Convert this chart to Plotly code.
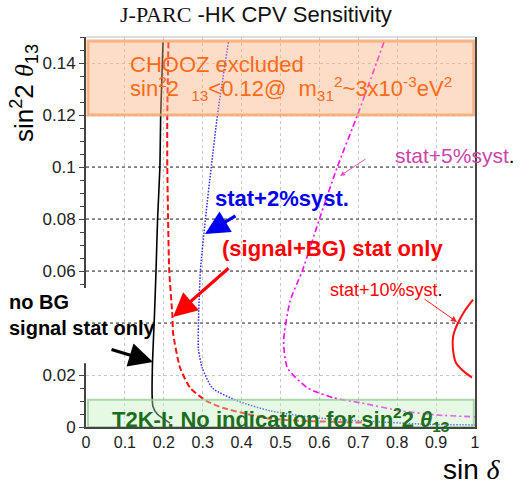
import plotly.graph_objects as go

# ---------------- data ----------------
nobg_x = [0.198, 0.192, 0.190, 0.184, 0.180, 0.176, 0.171, 0.170, 0.172, 0.183, 0.216]
nobg_y = [0.148, 0.120, 0.100, 0.080, 0.060, 0.043, 0.025, 0.012, 0.008, 0.005, 0.0015]

stat_x = [0.212, 0.209, 0.209, 0.211, 0.214, 0.222, 0.224, 0.242, 0.268, 0.310, 0.353, 0.414, 0.474, 0.55, 0.71]
stat_y = [0.148, 0.120, 0.100, 0.080, 0.060, 0.043, 0.036, 0.0227, 0.015, 0.010, 0.0073, 0.0050, 0.0032, 0.0024, 0.0017]

syst2_x = [0.366, 0.338, 0.322, 0.307, 0.294, 0.290, 0.289, 0.299, 0.325, 0.390, 0.474, 0.595, 0.75, 0.887, 1.0]
syst2_y = [0.148, 0.120, 0.100, 0.080, 0.060, 0.045, 0.030, 0.0227, 0.015, 0.010, 0.0062, 0.0035, 0.0020, 0.0010, 0.0008]

syst5_x = [0.766, 0.698, 0.646, 0.600, 0.556, 0.525, 0.508, 0.518, 0.570, 0.637, 0.706, 0.810, 0.905, 1.0]
syst5_y = [0.148, 0.120, 0.100, 0.080, 0.060, 0.0486, 0.033, 0.0227, 0.015, 0.0112, 0.0093, 0.0062, 0.0046, 0.0039]

syst10_x = [0.995, 0.975, 0.956, 0.944, 0.943, 0.951, 0.970, 0.992]
syst10_y = [0.049, 0.045, 0.040, 0.035, 0.0305, 0.0247, 0.0215, 0.019]

chooz_limit = 0.12
t2k_limit = 0.0105

x_ticks = [0, 0.1, 0.2, 0.3, 0.4, 0.5, 0.6, 0.7, 0.8, 0.9, 1.0]
x_ticklabels = ["0", "0.1", "0.2", "0.3", "0.4", "0.5", "0.6", "0.7", "0.8", "0.9", "1"]
y_ticks = [0, 0.02, 0.04, 0.06, 0.08, 0.10, 0.12, 0.14]
y_ticklabels = ["0", "0.02", "", "0.06", "0.08", "0.1", "0.12", "0.14"]
dark_grid_y = [0.04, 0.06, 0.08, 0.10]

SANS = "Liberation Sans, Arial, sans-serif"
SERIF = "Liberation Serif, serif"

fig = go.Figure()
fig.add_trace(go.Scatter(x=nobg_x, y=nobg_y, mode="lines", line=dict(color="black", width=1.6, shape="spline", smoothing=0.6)))
fig.add_trace(go.Scatter(x=stat_x, y=stat_y, mode="lines", line=dict(color="#ff1010", width=2, dash="6px,3px", shape="spline", smoothing=0.6)))
fig.add_trace(go.Scatter(x=syst2_x, y=syst2_y, mode="lines", line=dict(color="#2a2aff", width=1.5, dash="1.5px,1.5px", shape="spline", smoothing=0.6)))
fig.add_trace(go.Scatter(x=syst5_x, y=syst5_y, mode="lines", line=dict(color="#ff00ff", width=1.6, dash="6px,3px,2px,3px", shape="spline", smoothing=0.6)))
fig.add_trace(go.Scatter(x=syst10_x, y=syst10_y, mode="lines", line=dict(color="#ff1010", width=2, shape="spline", smoothing=0.8)))

shapes = []
# dark dotted grid overlay
for gy in dark_grid_y:
    shapes.append(dict(type="line", xref="x", yref="y", x0=0, x1=1, y0=gy, y1=gy,
                       line=dict(color="#333333", width=1, dash="dot"), layer="between"))
# top frame line
shapes.append(dict(type="line", xref="paper", yref="paper", x0=0, x1=1, y0=1, y1=1,
                   line=dict(color="#bbbbbb", width=1)))
# CHOOZ box
shapes.append(dict(type="rect", xref="x", yref="y", x0=0.005, x1=0.997, y0=chooz_limit, y1=0.1485,
                   fillcolor="rgba(250,175,125,0.42)", line=dict(color="rgba(245,160,100,0.75)", width=3),
                   layer="above"))
# T2K box
shapes.append(dict(type="rect", xref="x", yref="y", x0=0.005, x1=0.997, y0=0.0, y1=t2k_limit,
                   fillcolor="rgba(190,240,190,0.40)", line=dict(color="rgba(150,205,150,0.8)", width=2),
                   layer="above"))
# white label background hiding part of the left axis (as in the reference)
shapes.append(dict(type="rect", xref="paper", yref="y", x0=-0.25, x1=0.006, y0=0.0245, y1=0.0535,
                   fillcolor="white", line=dict(width=0), layer="above"))


def px2x(px):
    return (px - 86) / 389.0


def py2y(py):
    return (427 - py) / 390.0


ann = []


def text(s, px, py, size, color, bold=False, anchor="left"):
    ann.append(dict(text=("<b>%s</b>" % s) if bold else s, xref="paper", yref="paper",
                    x=px2x(px), y=py2y(py), xanchor=anchor, yanchor="middle",
                    showarrow=False, font=dict(family=SANS, size=size, color=color)))


def arrow(tx, ty, hx, hy, color, width, head=2, size=1.0):
    ann.append(dict(text="", xref="x", yref="y", axref="x", ayref="y",
                    x=px2x(hx), y=py2y(hy) * 0.15, ax=px2x(tx), ay=py2y(ty) * 0.15,
                    showarrow=True, arrowhead=head, arrowsize=size, arrowwidth=width, arrowcolor=color))


# title
ann.append(dict(text="<span style='font-family:%s'>J-PARC</span> -HK CPV Sensitivity" % SERIF,
                xref="paper", yref="paper", x=px2x(256), y=py2y(15), xanchor="center", yanchor="middle",
                showarrow=False, font=dict(family=SANS, size=22, color="#111111")))

# CHOOZ text
text("CHOOZ excluded", 128, 65, 22, "#ff6a13")
text("sin<sup>2</sup>2\u00a0\u00a0<sub>13</sub>&lt;0.12@\u00a0\u00a0m<sub>31</sub><sup>2</sup>~3x10<sup>-3</sup>eV<sup>2</sup>",
     128, 88, 22, "#ff6a13")

# T2K text
text("T2K-I: No indication for sin<sup>2</sup>2 <i>θ</i><sub>13</sub>", 110, 419, 22, "#1b6e1b", bold=True)

# curve labels
text("<span style='color:#cc44aa'>stat+5%syst</span>.", 393, 155, 21, "black")
text("stat+2%syst.", 213, 198, 22, "#0000ee", bold=True)
text("(signal+BG) stat only", 220, 248, 22, "#ff0000", bold=True)
text("<span style='color:#ff0000'>stat+10%syst</span>.", 328, 290, 18, "black")
text("no BG", 7, 302, 20, "black", bold=True)
text("signal stat only", 7, 328, 20, "black", bold=True)

# arrows
arrow(367, 158, 340, 176, "#dd55bb", 1.0, head=2, size=1.0)
arrow(237, 215, 205, 234, "#0000ee", 3.2, head=2, size=1.5)
arrow(230, 267, 173, 317, "#ff0000", 3.2, head=2, size=1.5)
arrow(423, 298, 457, 322, "#ff2020", 1.0, head=2, size=1.2)
arrow(110, 349, 153, 362, "black", 3.2, head=2, size=1.5)

# axis titles
ann.append(dict(text="sin<sup>2</sup>2 <i><span style='font-family:%s'>θ</span></i><sub>13</sub>" % SERIF,
                xref="paper", yref="paper", x=px2x(24), y=py2y(93), xanchor="center", yanchor="middle",
                textangle=-90, showarrow=False, font=dict(family=SANS, size=26, color="black")))
ann.append(dict(text="sin <i><span style='font-family:%s'>δ</span></i>" % SERIF,
                xref="paper", yref="paper", x=px2x(472), y=py2y(469), xanchor="center", yanchor="middle",
                showarrow=False, font=dict(family=SANS, size=28, color="black")))

fig.update_layout(
    width=522, height=483,
    margin=dict(l=86, r=47, t=37, b=56),
    paper_bgcolor="white", plot_bgcolor="white",
    showlegend=False,
    font=dict(family=SANS, color="#222222"),
    shapes=shapes, annotations=ann,
    xaxis=dict(range=[0, 1], tickvals=x_ticks, ticktext=x_ticklabels,
               showgrid=True, gridcolor="#c8c8c8", griddash="dot", gridwidth=1,
               showline=True, linecolor="#444444", linewidth=2, ticks="",
               tickfont=dict(size=16, color="#222222"), zeroline=False),
    yaxis=dict(range=[0, 0.15], tickvals=y_ticks, ticktext=y_ticklabels,
               showgrid=True, gridcolor="#c8c8c8", griddash="dot", gridwidth=1,
               showline=True, linecolor="#444444", linewidth=2, mirror=True,
               ticks="outside", ticklen=5, tickcolor="#444444",
               minor=dict(dtick=0.005, ticks="outside", ticklen=4, tickcolor="#444444", showgrid=False),
               tickfont=dict(size=17, color="#222222"), zeroline=False),
)

fig.write_html("out.html")
